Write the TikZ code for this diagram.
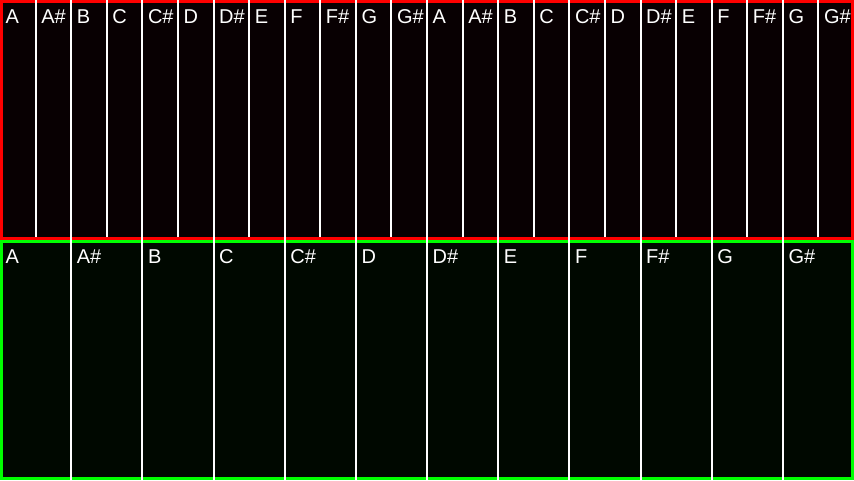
\documentclass[tikz,border=0pt]{standalone}
\usepackage{fontspec}
\setmainfont{Liberation Sans}
\definecolor{topbg}{HTML}{080002}
\definecolor{botbg}{HTML}{000800}
\definecolor{redb}{HTML}{FF0000}
\definecolor{greenb}{HTML}{00FF00}
\begin{document}
\begin{tikzpicture}[x=1pt,y=-1pt,
  lbl/.style={anchor=base west, inner sep=0pt, text=white, font=\fontsize{20}{20}\selectfont},
  sep/.style={draw=white, line width=2pt}]
\useasboundingbox (0,0) rectangle (854,480);
\fill[topbg] (0,0) rectangle (854,240);
\fill[botbg] (0,240) rectangle (854,480);
\draw[redb, line width=3pt] (1.5,1.5) rectangle (852.5,238.5);
\draw[greenb, line width=3pt] (1.5,241.5) rectangle (852.5,478.5);
\foreach \i in {1,...,23} {
  \coordinate (ta\i) at ({\i*35.5833},0);
  \coordinate (tb\i) at ({\i*35.5833},237);
  \draw[sep] (ta\i) -- (tb\i);
}
\foreach \i in {1,...,11} {
  \coordinate (ba\i) at ({\i*71.1667},237);
  \coordinate (bb\i) at ({\i*71.1667},480);
  \draw[sep] (ba\i) -- (bb\i);
}
\foreach \n [count=\i from 0] in {A,A\#,B,C,C\#,D,D\#,E,F,F\#,G,G\#,A,A\#,B,C,C\#,D,D\#,E,F,F\#,G,G\#}
  \node[lbl] (t\i) at ({\i*35.5833+5.5},23) {\n};
\foreach \n [count=\i from 0] in {A,A\#,B,C,C\#,D,D\#,E,F,F\#,G,G\#}
  \node[lbl] (b\i) at ({\i*71.1667+5.5},263) {\n};
\end{tikzpicture}
\end{document}
